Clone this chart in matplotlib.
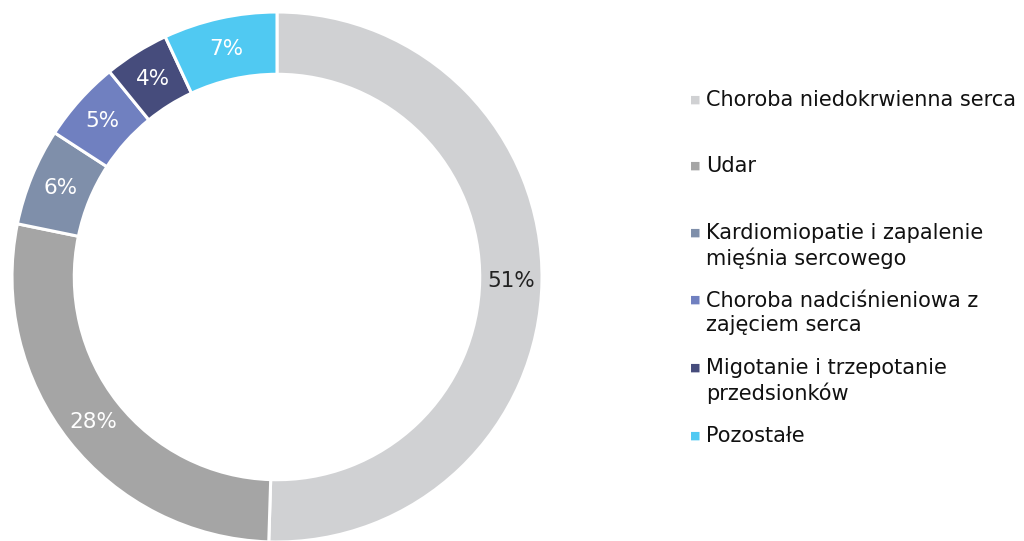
import matplotlib
matplotlib.use("Agg")
import matplotlib.pyplot as plt
import numpy as np

# data
categories = ["Choroba niedokrwienna serca", "Udar",
              "Kardiomiopatie i zapalenie\nmięśnia sercowego",
              "Choroba nadciśnieniowa z\nzajęciem serca",
              "Migotanie i trzepotanie\nprzedsionków", "Pozostałe"]
values = [51, 28, 6, 5, 4, 7]
colors = ["#D0D1D3", "#A5A5A5", "#7F8FAA", "#7080C0", "#464C7C", "#50C9F2"]
label_colors = ["#222222", "white", "white", "white", "white", "white"]

plt.rcParams['font.family'] = ['DejaVu Sans']

fig = plt.figure(figsize=(10.24, 5.41), dpi=100)
ax = fig.add_axes([12 / 1024, -1 / 541, 530 / 1024, 530 / 541])

wedges, _ = ax.pie(values, colors=colors, startangle=90, counterclock=False,
                   radius=1.0,
                   wedgeprops=dict(width=0.235, edgecolor="white", linewidth=2.2))
ax.set_xlim(-1, 1)
ax.set_ylim(-1, 1)
ax.set_aspect("equal")
ax.axis("off")

total = sum(values)
start = 90.0
for v, c in zip(values, label_colors):
    ang = start - v / total * 360 / 2
    start -= v / total * 360
    r = 0.883
    ax.text(r * np.cos(np.radians(ang)), r * np.sin(np.radians(ang)),
            f"{v}%", ha="center", va="center", color=c, fontsize=15.5,
            family="DejaVu Sans")

# legend, drawn by hand
legend_y = [100, 166, 246, 313, 381, 436]
for lab, col, y in zip(categories, colors, legend_y):
    nlines = lab.count("\n") + 1
    top = y - (nlines - 1) * 13.5
    fig.text(695 / 1024, 1 - top / 541, "■", color=col, fontsize=8,
             ha="center", va="center", family="DejaVu Sans")
    fig.text(706 / 1024, 1 - y / 541, lab, color="#111111", fontsize=15,
             ha="left", va="center", linespacing=1.25, family="DejaVu Sans")

fig.savefig("out.png", dpi=100)
